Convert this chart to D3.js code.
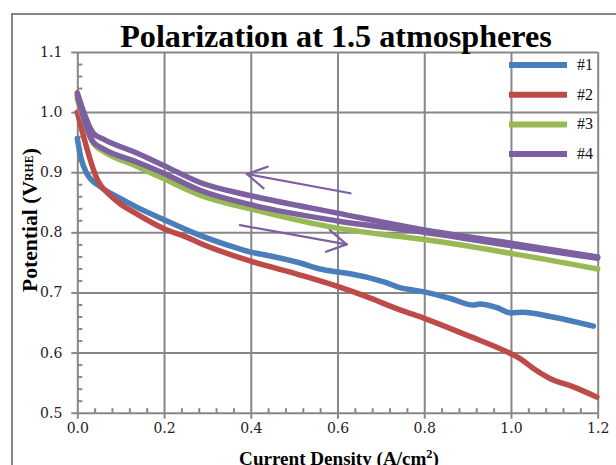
<!DOCTYPE html>
<html>
<head>
<meta charset="utf-8">
<script src="https://cdn.jsdelivr.net/npm/d3@7"></script>
<style>
  html, body { margin: 0; padding: 0; background: #ffffff; }
  svg { display: block; }
</style>
</head>
<body>
<svg id="chart" width="616" height="465"></svg>
<script>
// ---------------- DATA ----------------
const xTicks = [0.0, 0.2, 0.4, 0.6, 0.8, 1.0, 1.2];
const yTicks = [0.5, 0.6, 0.7, 0.8, 0.9, 1.0, 1.1];
const seriesNames = ["#1", "#2", "#3", "#4"];
const seriesColors = ["#4a7ebb", "#be4b48", "#98b954", "#7d60a0"];

// #1 (blue)
const current1 = [0, 0.008, 0.022, 0.053, 0.1, 0.137, 0.2, 0.283, 0.35, 0.4, 0.437, 0.514, 0.56, 0.6, 0.629, 0.705, 0.744, 0.8, 0.86, 0.913, 0.928, 0.967, 1.0, 1.028, 1.09, 1.19];
const potential1 = [0.956, 0.925, 0.898, 0.876, 0.856, 0.842, 0.821, 0.795, 0.778, 0.767, 0.762, 0.749, 0.739, 0.734, 0.731, 0.718, 0.708, 0.701, 0.690, 0.679, 0.681, 0.675, 0.666, 0.667, 0.660, 0.644];

// #2 (red)
const current2 = [0, 0.048, 0.075, 0.098, 0.129, 0.2, 0.252, 0.283, 0.4, 0.514, 0.6, 0.667, 0.744, 0.8, 0.898, 1.0, 1.021, 1.051, 1.09, 1.144, 1.198];
const potential2 = [1.0, 0.885, 0.862, 0.848, 0.834, 0.806, 0.792, 0.782, 0.752, 0.729, 0.710, 0.693, 0.671, 0.657, 0.629, 0.598, 0.590, 0.574, 0.557, 0.543, 0.526];

// #3 (green)
const current3 = [0, 0.037, 0.06, 0.137, 0.2, 0.283, 0.4, 0.6, 0.745, 0.8, 1.0, 1.2];
const potential3 = [1.022, 0.948, 0.935, 0.910, 0.889, 0.862, 0.839, 0.807, 0.793, 0.788, 0.765, 0.739];

// #4 (purple): forward sweep (lower) and reverse sweep (upper) at the same currents
const current4 = [0, 0.037, 0.06, 0.137, 0.2, 0.283, 0.4, 0.6, 0.8, 1.0, 1.2];
const potential4Forward = [1.028, 0.950, 0.939, 0.917, 0.898, 0.870, 0.846, 0.819, 0.800, 0.778, 0.757];
const potential4Reverse = [1.032, 0.965, 0.955, 0.932, 0.911, 0.883, 0.861, 0.832, 0.804, 0.782, 0.759];

// annotation arrows (data units): [current, potential]
const arrowStart = [[0.630, 0.865], [0.375, 0.812]];
const arrowEnd   = [[0.391, 0.897], [0.621, 0.780]];

const titleText = "Polarization at 1.5 atmospheres";

// ---------------- DRAW ----------------
const svg = d3.select("#chart");
const x = d3.scaleLinear().domain([0, 1.2]).range([77.3, 597.7]);
const y = d3.scaleLinear().domain([0.5, 1.1]).range([412.7, 52]);
const plotW = x(1.2) - x(0);
const plotH = y(0.5) - y(1.1);
const gridColor = "#878787";

// outer chart frame
svg.append("rect")
  .attr("x", 12).attr("y", 14).attr("width", 700).attr("height", 600)
  .attr("fill", "none").attr("stroke", gridColor).attr("stroke-width", 2);

function styleAxis(g) {
  g.select(".domain").remove();
  g.selectAll(".tick line").attr("stroke", gridColor).attr("stroke-width", 2);
}

// horizontal gridlines (y) incl. outward major ticks
svg.append("g").attr("transform", `translate(${x(0)},0)`)
  .call(d3.axisLeft(y).tickValues(yTicks).tickSize(-plotW).tickFormat(""))
  .call(styleAxis);
svg.append("g").attr("transform", `translate(${x(0)},0)`)
  .call(d3.axisLeft(y).tickValues(yTicks).tickSize(6).tickPadding(9).tickFormat(d3.format(".1f")))
  .call(styleAxis)
  .call(g => g.selectAll("text").attr("font-family", "DejaVu Serif").attr("font-size", 14).attr("fill", "#222"));

// vertical gridlines (x)
svg.append("g").attr("transform", `translate(0,${y(0.5)})`)
  .call(d3.axisBottom(x).tickValues(xTicks).tickSize(-plotH).tickFormat(""))
  .call(styleAxis);
svg.append("g").attr("transform", `translate(0,${y(0.5)})`)
  .call(d3.axisBottom(x).tickValues(xTicks).tickSize(6).tickPadding(4).tickFormat(d3.format(".1f")))
  .call(styleAxis)
  .call(g => g.selectAll("text").attr("font-family", "DejaVu Serif").attr("font-size", 14).attr("fill", "#222"));

// minor ticks (inside)
const yMinor = d3.range(0.52, 1.1, 0.02).filter(v => Math.abs(v * 10 - Math.round(v * 10)) > 0.01);
const xMinor = d3.range(0.04, 1.2, 0.04).filter(v => Math.abs(v * 5 - Math.round(v * 5)) > 0.01);
svg.append("g").attr("transform", `translate(${x(0)},0)`)
  .call(d3.axisLeft(y).tickValues(yMinor).tickSize(-5).tickFormat(""))
  .call(styleAxis);
svg.append("g").attr("transform", `translate(0,${y(0.5)})`)
  .call(d3.axisBottom(x).tickValues(xMinor).tickSize(-4.5).tickFormat(""))
  .call(styleAxis);

// data lines
const seriesData = [
  { c: seriesColors[0], pts: d3.zip(current1, potential1) },
  { c: seriesColors[1], pts: d3.zip(current2, potential2) },
  { c: seriesColors[2], pts: d3.zip(current3, potential3) },
  { c: seriesColors[3], pts: d3.zip(current4, potential4Forward) },
  { c: seriesColors[3], pts: d3.zip(current4, potential4Reverse) }
];
const line = d3.line().x(d => x(d[0])).y(d => y(d[1])).curve(d3.curveMonotoneX);
svg.append("g").selectAll("path").data(seriesData).join("path")
  .attr("d", d => line(d.pts))
  .attr("fill", "none")
  .attr("stroke", d => d.c)
  .attr("stroke-width", 5.5)
  .attr("stroke-linejoin", "round")
  .attr("stroke-linecap", "round");

// arrows
const arrowG = svg.append("g").attr("stroke", "#7d60a0").attr("stroke-width", 2.2).attr("fill", "none").attr("stroke-linecap", "round");
arrowStart.forEach((s, i) => {
  const e = arrowEnd[i];
  const x1 = x(s[0]), y1 = y(s[1]), x2 = x(e[0]), y2 = y(e[1]);
  arrowG.append("line").attr("x1", x1).attr("y1", y1).attr("x2", x2).attr("y2", y2);
  const ang = Math.atan2(y1 - y2, x1 - x2);
  const L = 22, spread = Math.PI / 6;
  [ang - spread, ang + spread].forEach(a => {
    arrowG.append("line").attr("x1", x2).attr("y1", y2)
      .attr("x2", x2 + L * Math.cos(a)).attr("y2", y2 + L * Math.sin(a));
  });
});

// legend
const legend = svg.append("g");
seriesNames.forEach((name, i) => {
  const ly = 65 + i * 29.7;
  legend.append("line").attr("x1", 509).attr("x2", 567).attr("y1", ly).attr("y2", ly)
    .attr("stroke", seriesColors[i]).attr("stroke-width", 6);
  legend.append("text").attr("x", 577).attr("y", ly + 5)
    .attr("font-family", "Liberation Serif").attr("font-size", 16).attr("fill", "#111")
    .text(name);
});

function fit(sel, target) {
  const w = sel.node().getComputedTextLength();
  const fs = parseFloat(sel.attr("font-size"));
  sel.attr("font-size", fs * target / w);
}

// title
const title = svg.append("text").attr("x", 336).attr("y", 47)
  .attr("text-anchor", "middle").attr("font-family", "Liberation Serif")
  .attr("font-weight", "bold").attr("font-size", 29).attr("fill", "#000")
  .text(titleText);
fit(title, 432);

// x axis title
const xt = svg.append("text").attr("x", 339).attr("y", 465)
  .attr("text-anchor", "middle").attr("font-family", "Liberation Serif")
  .attr("font-weight", "bold").attr("font-size", 17).attr("fill", "#000");
xt.append("tspan").text("Current Density (A/cm");
xt.append("tspan").attr("font-size", "0.65em").attr("dy", "-0.55em").text("2");
xt.append("tspan").attr("dy", "0.36em").text(")");
fit(xt, 200);

// y axis title
const yt = svg.append("text").attr("transform", "translate(37,220) rotate(-90)")
  .attr("text-anchor", "middle").attr("font-family", "Liberation Serif")
  .attr("font-weight", "bold").attr("font-size", 18).attr("fill", "#000");
yt.append("tspan").text("Potential (V");
yt.append("tspan").attr("font-size", "0.55em").attr("dy", "-0.35em").text("RHE");
yt.append("tspan").attr("dy", "0.19em").text(")");
fit(yt, 144);
</script>
</body>
</html>
